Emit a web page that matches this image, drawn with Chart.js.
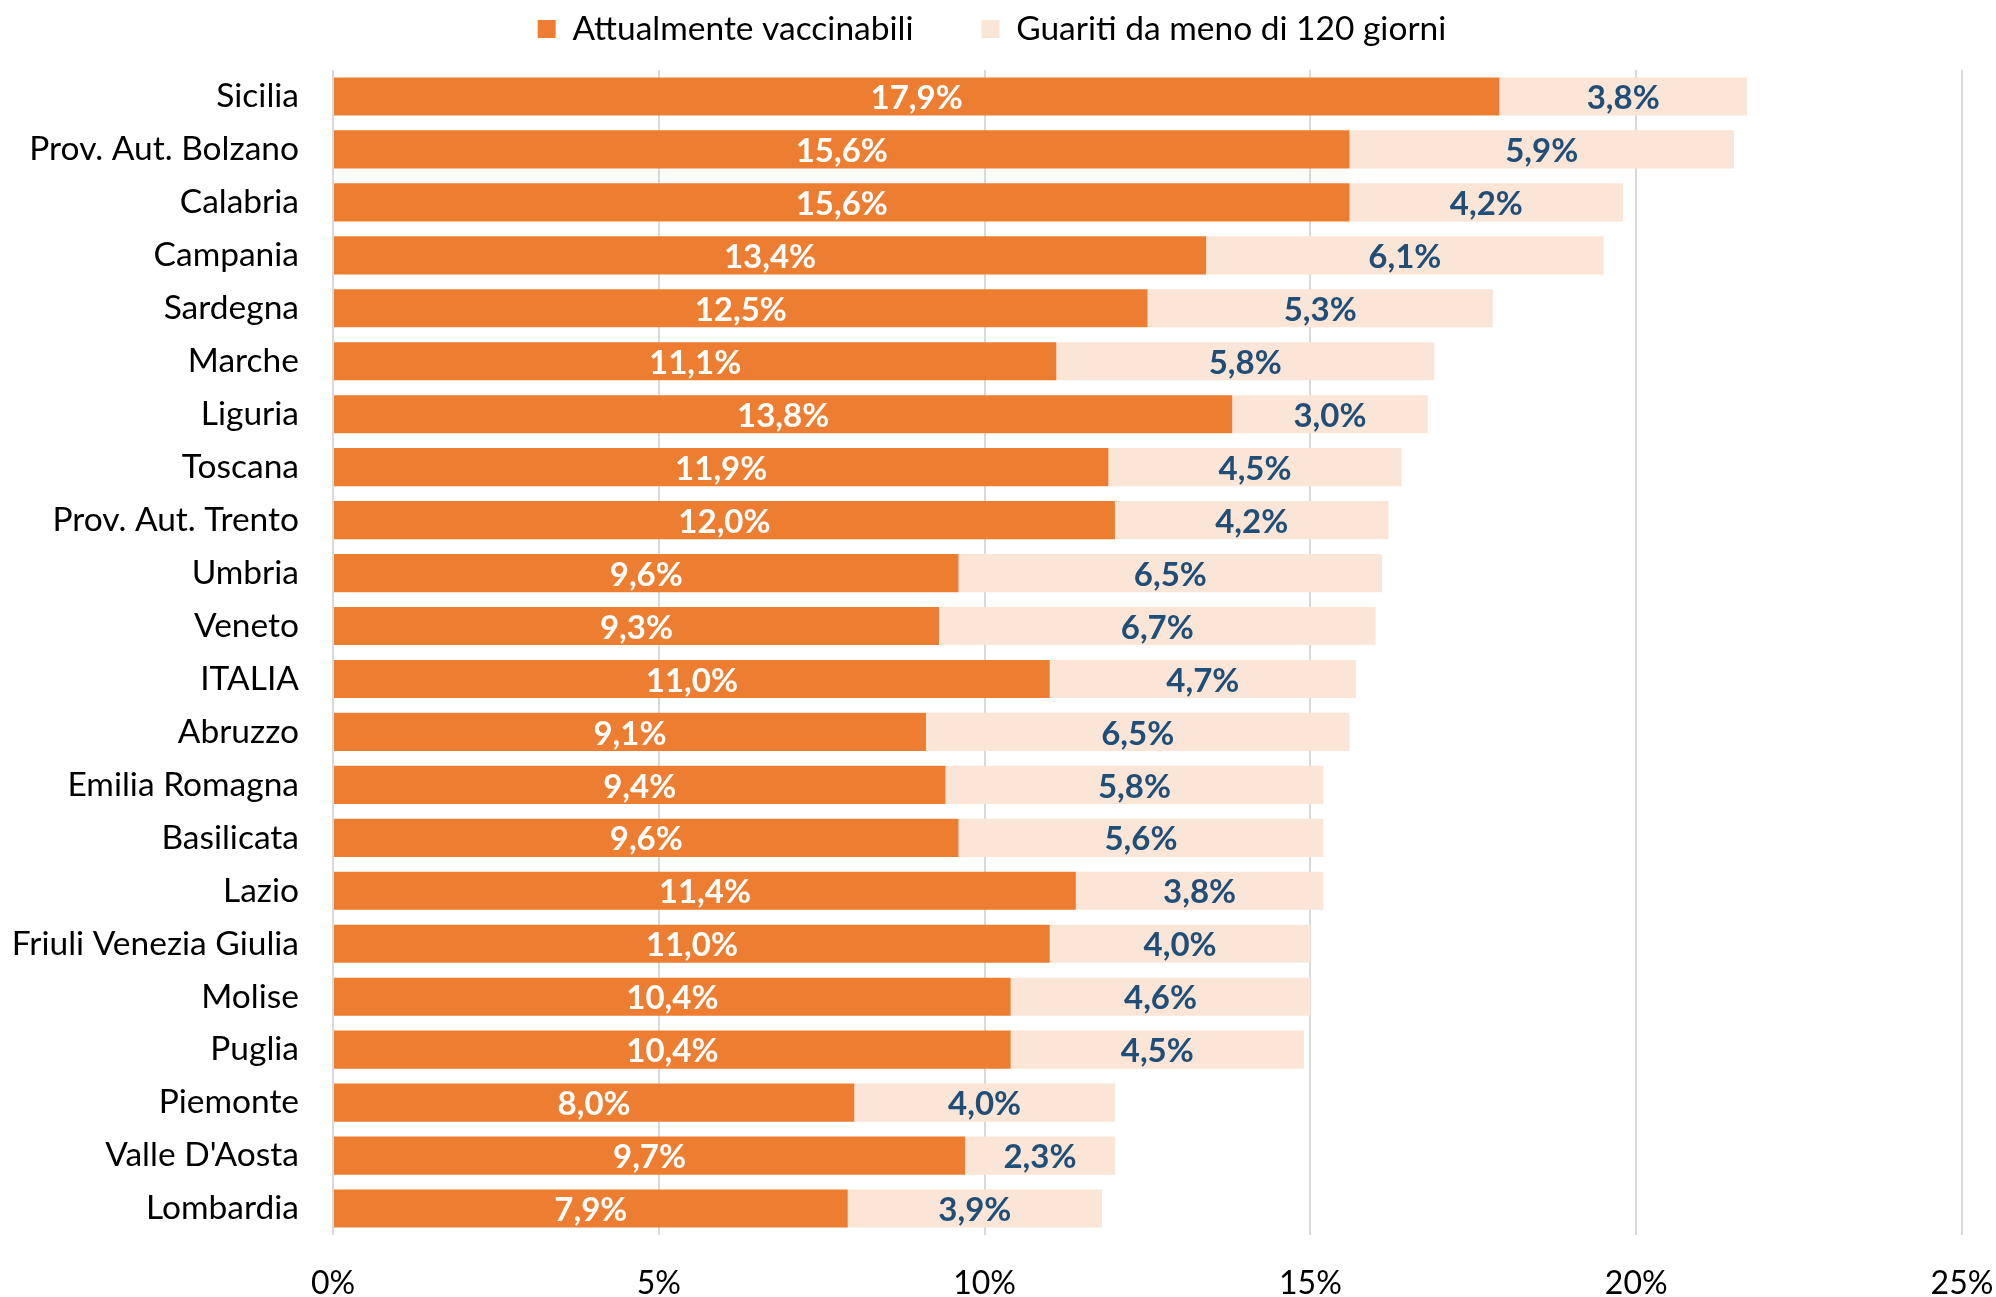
<!DOCTYPE html>
<html>
<head>
<meta charset="utf-8">
<script src="https://cdn.jsdelivr.net/npm/chart.js@4"></script>
<style>
  html, body { margin: 0; padding: 0; background: #ffffff; }
  #wrap { width: 1996px; height: 1297px; position: relative; }
</style>
</head>
<body>
<div id="wrap"><canvas id="c" width="1996" height="1297"></canvas></div>
<script>
const categories = ["Sicilia", "Prov. Aut. Bolzano", "Calabria", "Campania", "Sardegna", "Marche", "Liguria", "Toscana", "Prov. Aut. Trento", "Umbria", "Veneto", "ITALIA", "Abruzzo", "Emilia Romagna", "Basilicata", "Lazio", "Friuli Venezia Giulia", "Molise", "Puglia", "Piemonte", "Valle D'Aosta", "Lombardia"];
const vaccinabili = [17.9, 15.6, 15.6, 13.4, 12.5, 11.1, 13.8, 11.9, 12.0, 9.6, 9.3, 11.0, 9.1, 9.4, 9.6, 11.4, 11.0, 10.4, 10.4, 8.0, 9.7, 7.9];
const guariti = [3.8, 5.9, 4.2, 6.1, 5.3, 5.8, 3.0, 4.5, 4.2, 6.5, 6.7, 4.7, 6.5, 5.8, 5.6, 3.8, 4.0, 4.6, 4.5, 4.0, 2.3, 3.9];
const seriesNames = ["Attualmente vaccinabili", "Guariti da meno di 120 giorni"];
const xTicks = [0, 5, 10, 15, 20, 25];

const FONT = "Lato, 'Open Sans', sans-serif";
const fmt = v => v.toFixed(1).replace('.', ',') + '%';

const LEGEND_PAD = 68;
const LEGEND_FONT = 33.5;
const layoutFix = {
  id: 'layoutFix',
  beforeLayout(chart) {
    const lg = chart.legend;
    if (lg && !lg.__patched) {
      const f = lg.fit;
      lg.fit = function () { f.call(this); this.height = 70; };
      lg.__patched = true;
    }
  },
  afterLayout(chart) {
    const lg = chart.legend;
    if (lg) {
      lg.top = 29 - LEGEND_PAD - LEGEND_FONT / 2;
      lg.left += 11;
      lg.right += 11;
    }
  }
};

const valueLabels = {
  id: 'valueLabels',
  afterDatasetsDraw(chart) {
    const ctx = chart.ctx;
    ctx.save();
    ctx.font = "bold 33px " + FONT;
    ctx.textAlign = 'center';
    ctx.textBaseline = 'middle';
    chart.data.datasets.forEach((ds, di) => {
      const meta = chart.getDatasetMeta(di);
      ctx.fillStyle = di === 0 ? '#ffffff' : '#1F4E79';
      meta.data.forEach((el, i) => {
        const p = el.getProps(['x', 'y', 'base'], true);
        ctx.fillText(fmt(ds.data[i]), (p.x + p.base) / 2, p.y + 2);
      });
    });
    ctx.restore();
  }
};

new Chart(document.getElementById('c'), {
  type: 'bar',
  data: {
    labels: categories,
    datasets: [
      { label: seriesNames[0], data: vaccinabili, backgroundColor: '#ED7D31', borderWidth: 0, barPercentage: 0.72, categoryPercentage: 1 },
      { label: seriesNames[1], data: guariti, backgroundColor: '#FBE5D6', borderWidth: 0, barPercentage: 0.72, categoryPercentage: 1 }
    ]
  },
  options: {
    indexAxis: 'y',
    responsive: false,
    animation: false,
    devicePixelRatio: 1,
    layout: { padding: { left: 0, right: 34, top: 0, bottom: 0 } },
    plugins: {
      legend: {
        position: 'top',
        align: 'center',
        labels: {
          color: '#000000',
          font: { family: FONT, size: LEGEND_FONT },
          boxWidth: 18,
          boxHeight: 18,
          padding: LEGEND_PAD
        }
      },
      tooltip: { enabled: false }
    },
    scales: {
      x: {
        stacked: true,
        min: 0,
        max: 25,
        afterBuildTicks(scale) { scale.ticks = xTicks.map(v => ({ value: v })); },
        afterFit(scale) { scale.height = 62; scale.paddingLeft = 0; scale.paddingRight = 0; },
        grid: { color: '#D9D9D9', lineWidth: 2, drawTicks: false },
        border: { display: false },
        ticks: {
          color: '#000000',
          font: { family: FONT, size: 32 },
          padding: 29,
          callback: v => v + '%'
        }
      },
      y: {
        stacked: true,
        afterFit(scale) { scale.width = 333; },
        grid: { display: false, drawTicks: false },
        border: { display: false },
        ticks: {
          color: '#000000',
          font: { family: FONT, size: 33.5 },
          padding: 34,
          autoSkip: false
        }
      }
    }
  },
  plugins: [layoutFix, valueLabels]
});
</script>
</body>
</html>
